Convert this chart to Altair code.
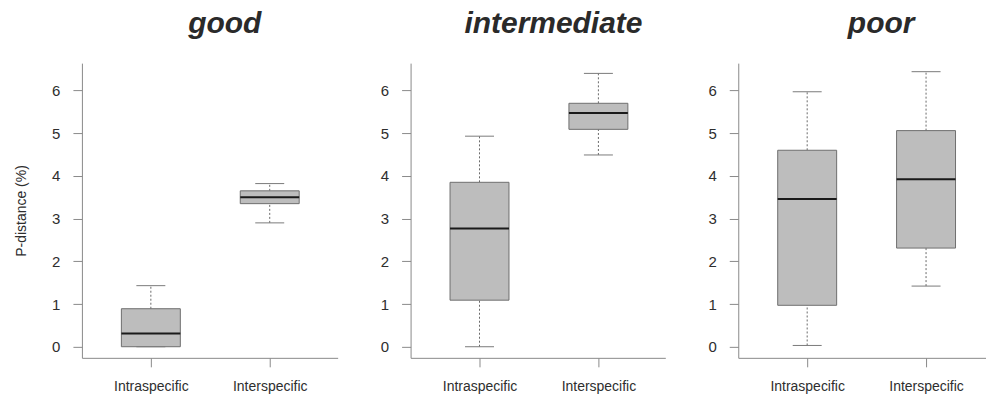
import altair as alt
import pandas as pd

# ---- data ----
panels = ["good", "intermediate", "poor"]
categories = ["Intraspecific", "Interspecific"]
# order: good-intra, good-inter, intermediate-intra, intermediate-inter, poor-intra, poor-inter
whisker_low = [0.00, 2.90, 0.00, 4.49, 0.03, 1.42]
quart_1 = [0.00, 3.35, 1.09, 5.09, 0.97, 2.31]
median = [0.31, 3.50, 2.77, 5.47, 3.46, 3.92]
quart_3 = [0.89, 3.65, 3.85, 5.70, 4.60, 5.06]
whisker_high = [1.43, 3.82, 4.93, 6.40, 5.97, 6.44]
y_ticks = [0, 1, 2, 3, 4, 5, 6]
y_title = "P-distance (%)"

rows = []
k = 0
for p in panels:
    for c in categories:
        rows.append({"panel": p, "category": c, "lo": whisker_low[k], "q1": quart_1[k],
                     "med": median[k], "q3": quart_3[k], "hi": whisker_high[k]})
        k += 1
df = pd.DataFrame(rows)

FONT = "Liberation Sans"
AXIS_GREY = "#8a8a8a"
TEXT = "#2e2e2e"
BOX_W = 59
CAP_W = 29
STEP = 119
FIRST = 69
H = 295
Y_DOMAIN = [-0.26, 6.64]
widths = [256, 255, 248]


def make_panel(name, width, show_ytitle):
    d = df[df["panel"] == name]
    pad = (width / STEP - 1) / 2
    align = FIRST / (width - STEP)
    xaxis = alt.Axis(title=None, labelAngle=0, tickSize=9, labelPadding=13,
                     labelFontSize=14, labelFont=FONT, labelColor=TEXT,
                     domainColor=AXIS_GREY, tickColor=AXIS_GREY, grid=False)
    yaxis_kwargs = dict(values=y_ticks, tickSize=9, labelPadding=13, labelFontSize=15,
                        labelFont=FONT, labelColor=TEXT, domainColor=AXIS_GREY,
                        tickColor=AXIS_GREY, grid=False)
    if show_ytitle:
        yaxis = alt.Axis(title=y_title, titleFont=FONT, titleFontSize=14,
                         titleFontWeight="normal", titleColor=TEXT, titlePadding=23,
                         **yaxis_kwargs)
    else:
        yaxis = alt.Axis(title=None, **yaxis_kwargs)
    xs = alt.Scale(type="point", padding=pad, align=align)
    ys = alt.Scale(domain=Y_DOMAIN, nice=False, zero=False)

    def X():
        return alt.X("category:N", sort=categories, scale=xs, axis=xaxis)

    def Y(f):
        return alt.Y(f + ":Q", scale=ys, axis=yaxis)

    base = alt.Chart(d)
    low_whisk = base.mark_rule(color="#6a6a6a", strokeWidth=1, strokeDash=[2, 2]).encode(
        x=X(), y=Y("lo"), y2="q1")
    high_whisk = base.mark_rule(color="#6a6a6a", strokeWidth=1, strokeDash=[2, 2]).encode(
        x=X(), y=Y("q3"), y2="hi")
    cap_lo = base.mark_tick(size=CAP_W, thickness=1, color="#7a7a7a", opacity=1).encode(
        x=X(), y=Y("lo"))
    cap_hi = base.mark_tick(size=CAP_W, thickness=1, color="#7a7a7a", opacity=1).encode(
        x=X(), y=Y("hi"))
    box = base.mark_bar(size=BOX_W, fill="#bdbdbd", stroke="#6e6e6e", strokeWidth=1).encode(
        x=X(), y=Y("q1"), y2="q3")
    med = base.mark_tick(size=BOX_W, thickness=2, color="#1a1a1a", opacity=1).encode(
        x=X(), y=Y("med"))
    return alt.layer(low_whisk, high_whisk, cap_lo, cap_hi, box, med).properties(
        width=width, height=H,
        title=alt.TitleParams(text=name, font=FONT, fontSize=30, fontStyle="italic",
                              fontWeight="bold", color="#2a2a2a", anchor="middle",
                              dx=143 - width / 2, offset=24),
    )


charts = [make_panel(p, w, i == 0) for i, (p, w) in enumerate(zip(panels, widths))]

chart = alt.hconcat(*charts, spacing=42).properties(
    padding={"left": 14, "top": 9, "right": 0, "bottom": 0},
    background="white",
).configure_view(strokeWidth=0)

chart.save("out.html", embed_options={"renderer": "svg", "actions": False})
